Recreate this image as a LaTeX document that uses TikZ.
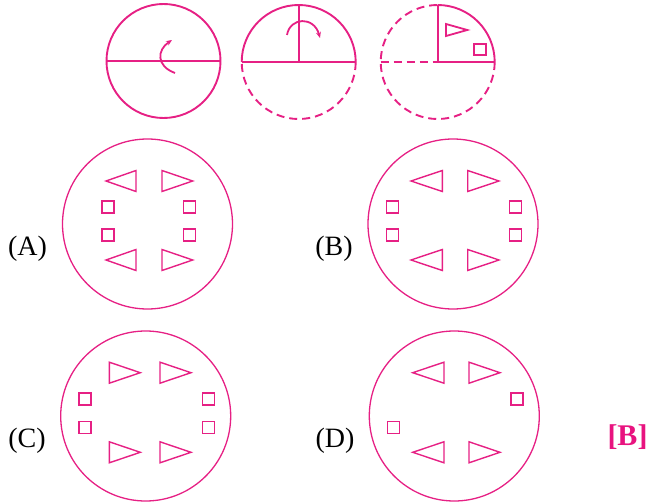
\documentclass[tikz,border=0pt]{standalone}
\usepackage{fontspec}
\setmainfont{Liberation Serif}
\usepackage{xcolor}
\usetikzlibrary{arrows.meta}
\definecolor{mag}{HTML}{E62084}
\definecolor{ansc}{HTML}{E8137F}

\begin{document}
\begin{tikzpicture}[x=1pt,y=-1pt,
  top/.style={draw=mag,line width=1.9pt},
  topd/.style={top,dash pattern=on 8pt off 5pt},
  ring/.style={draw=mag,line width=1.3pt},
  shp/.style={draw=mag,line width=1.4pt,line join=miter},
  turn/.style={draw=mag,line width=1.8pt,-{Stealth[length=6pt,width=5pt]}},
  lbl/.style={font=\fontsize{28}{30}\selectfont,inner sep=0pt}]
\useasboundingbox (0,0) rectangle (649,503);

% top row: the figure and how it is folded
\draw[top] (163.5,61) circle[radius=57];
\draw[top] (106.5,61) -- (220.5,61);
\draw[turn] (175,73) .. controls (156,66) and (157,50) .. (172,40);

\draw[top] (241.7,62) arc[start angle=180,end angle=360,radius=57];
\draw[topd] (355.7,62) arc[start angle=0,end angle=180,radius=57];
\draw[top] (241.7,62) -- (355.7,62);
\draw[top] (298.7,62) -- (298.7,5);
\draw[turn] (287,35) .. controls (290,17) and (314,16) .. (320,38);

\draw[top] (437.7,5) arc[start angle=270,end angle=360,radius=57];
\draw[topd] (494.7,62) arc[start angle=0,end angle=270,radius=57];
\draw[topd] (380.7,62) -- (437.7,62);
\draw[top] (437.7,62) -- (494.7,62) (437.7,62) -- (437.7,5);
\draw[shp,line width=1.8pt] (446,24) -- (446,36) -- (467.3,30) -- cycle;
\draw[shp,line width=1.8pt] (474.3,44) rectangle (485.7,55.4);

% the four answers
\draw[ring] (147.5,224) circle[radius=85];
\draw[ring] (453,224) circle[radius=85];
\draw[ring] (145.7,416) circle[radius=85];
\draw[ring] (454.3,416) circle[radius=85];

\foreach \bx/\cy/\dx in {136/181/-30, 162/181/30.7, 136/260/-30, 162/260/30.7,
    442.3/181/-31.3, 467.7/181/31.3, 442.3/260/-31.3, 467.7/260/31.3,
    109.3/372.7/31, 160/372.7/31, 109.3/452.3/31, 160/452.3/31,
    444/372.7/-31.3, 469/372.7/31, 444/452.3/-31.3, 469/452.3/31}
  \draw[shp] ({\bx},{\cy-10.5}) -- ({\bx},{\cy+10.5}) -- ({\bx+\dx},{\cy}) -- cycle;

\foreach \sx/\sy in {108/207, 108/235, 189.7/207, 189.7/235,
    392.5/207, 392.5/235, 515.5/207, 515.5/235,
    85/399, 85/427.5, 208.3/399, 208.3/427.5,
    517/399, 393.5/427.5}
  \draw[shp] ({\sx-6},{\sy-6}) rectangle ({\sx+6},{\sy+6});

\node[lbl] (la) at (27.5,248.5) {(A)};
\node[lbl] (lb) at (334,248.5) {(B)};
\node[lbl] (lc) at (27,441) {(C)};
\node[lbl] (ld) at (335,441) {(D)};
\node[lbl,font=\fontsize{30}{32}\selectfont\bfseries,text=ansc] (ans) at (627.5,437) {[B]};
\end{tikzpicture}
\end{document}
